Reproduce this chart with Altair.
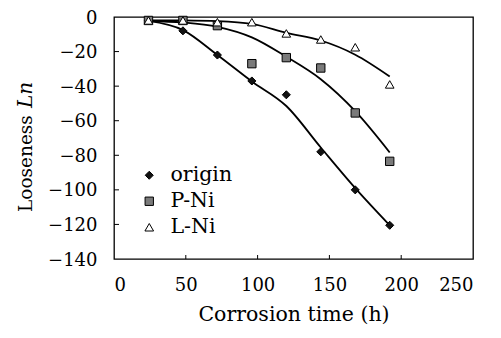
import altair as alt
import pandas as pd

series = ["origin", "P-Ni", "L-Ni"]
times = [24, 48, 72, 96, 120, 144, 168, 192]
origin_vals = [-2, -8, -22, -37, -45, -78, -100, -120.5]
pni_vals = [-2, -2, -5, -27, -23.5, -29.5, -55.5, -83.5]
lni_vals = [-2, -2, -3, -3, -9.5, -13, -17.5, -39]

origin_fit = [-2.3, -7.6, -22.0, -37.3, -51.5, -75.5, -99.0, -120.5]
pni_fit = [-2.3, -3.2, -5.7, -11.8, -23.0, -36.0, -54.5, -78.4]
lni_fit = [-1.9, -2.0, -2.4, -4.0, -9.2, -13.6, -21.8, -34.4]

x_ticks = [0, 50, 100, 150, 200, 250]
y_ticks = [-140, -120, -100, -80, -60, -40, -20, 0]
x_inner = [50, 100, 150, 200]
y_inner = [-120, -100, -80, -60, -40, -20]

rows, frows = [], []
for name, vals, fits in zip(series, [origin_vals, pni_vals, lni_vals], [origin_fit, pni_fit, lni_fit]):
    for t, v, f in zip(times, vals, fits):
        rows.append({"series": name, "t": t, "v": v})
        frows.append({"series": name, "t": t, "v": f})
pts = pd.DataFrame(rows)
fit = pd.DataFrame(frows)

FONT = "DejaVu Serif"
xs = alt.Scale(domain=[0, 250], nice=False)
ys = alt.Scale(domain=[-140, 0], nice=False)

xaxis = alt.Axis(values=x_ticks, title="Corrosion time (h)", grid=False, domain=False,
                 ticks=False, labelPadding=17, labelFontSize=18, labelFont=FONT,
                 labelColor="black", labelOverlap=False, titleFont=FONT, titleFontSize=20.5,
                 titleFontWeight="normal", titleColor="black", titlePadding=10)
yaxis = alt.Axis(values=y_ticks, title=None, grid=False, domain=False, ticks=False,
                 labelPadding=17, labelFontSize=18, labelFont=FONT, labelColor="black",
                 labelOverlap=False, labelOffset=1)

X = alt.X("t:Q", scale=xs, axis=xaxis)
Y = alt.Y("v:Q", scale=ys, axis=yaxis)

lines = alt.Chart(fit).mark_line(color="black", strokeWidth=1.8, interpolate="monotone").encode(
    x=X, y=Y, detail="series:N",
)

leg = alt.Legend(title=None, orient="none", legendX=25, legendY=148, labelFont=FONT,
                 labelFontSize=20.5, labelColor="black", symbolStrokeColor="black",
                 symbolStrokeWidth=1, rowPadding=5, labelOffset=11)

points = alt.Chart(pts).mark_point(filled=True, strokeWidth=1, opacity=1).encode(
    x=X, y=Y,
    shape=alt.Shape("series:N", scale=alt.Scale(domain=series, range=["diamond", "square", "triangle-up"]), legend=leg),
    fill=alt.Fill("series:N", scale=alt.Scale(domain=series, range=["#111111", "#7a7a7a", "#ffffff"]), legend=leg),
    stroke=alt.Stroke("series:N", scale=alt.Scale(domain=series, range=["#000000", "#000000", "#000000"]), legend=leg),
    size=alt.Size("series:N", scale=alt.Scale(domain=series, range=[65, 75, 60]), legend=leg),
)

xt = alt.Chart(pd.DataFrame({"t": x_inner})).mark_rule(color="black", strokeWidth=1).encode(
    x=X, y=alt.value(242), y2=alt.value(238))
yt = alt.Chart(pd.DataFrame({"v": y_inner})).mark_rule(color="black", strokeWidth=1).encode(
    y=Y, x=alt.value(0), x2=alt.value(5))

dummy = pd.DataFrame({"a": [0]})
t1 = alt.Chart(dummy).mark_text(text="Looseness", angle=270, align="left", baseline="middle",
                                font=FONT, fontSize=18.5, color="black").encode(
    x=alt.value(-88), y=alt.value(195))
t2 = alt.Chart(dummy).mark_text(text="Ln", angle=270, align="left", baseline="middle",
                                font=FONT, fontSize=20, fontStyle="italic", color="black").encode(
    x=alt.value(-88), y=alt.value(91))

chart = alt.layer(lines, points, xt, yt, t1, t2).properties(
    width=359, height=242,
    autosize=alt.AutoSizeParams(type="none"),
    padding={"left": 106, "top": 9, "right": 12, "bottom": 75},
).configure_view(stroke="black", strokeWidth=1.3).configure_axis(labelOverlap=False)

chart.save("out.html", embed_options={"renderer": "svg", "actions": False})
